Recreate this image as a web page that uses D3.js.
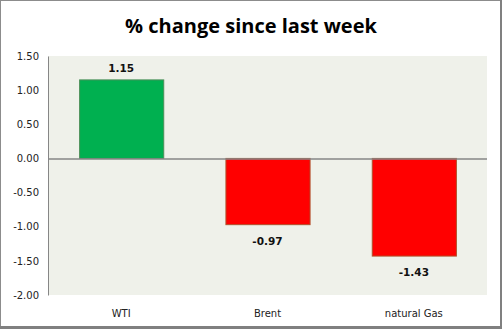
<!DOCTYPE html>
<html><head><meta charset="utf-8">
<script src="https://cdn.jsdelivr.net/npm/d3@7"></script>
<style>html,body{margin:0;padding:0;background:#fff;}svg{display:block;}</style>
</head><body>
<script>
const categories = ["WTI", "Brent", "natural Gas"];
const values = [1.15, -0.97, -1.43];
const tickValues = [1.5, 1.0, 0.5, 0, -0.5, -1.0, -1.5, -2.0];
const title = "% change since last week";

const W = 502, H = 329;
const fmt = d3.formatLocale({decimal: ".", thousands: ",", grouping: [3], currency: ["", ""], minus: "-"}).format(".2f");
const svg = d3.select("body").append("svg").attr("width", W).attr("height", H);

// outer frame
svg.append("rect").attr("x", 0).attr("y", 0).attr("width", W).attr("height", H).attr("fill", "#fff");
svg.append("rect").attr("x", 0.5).attr("y", 0.5).attr("width", W - 2).attr("height", H - 2)
  .attr("fill", "none").attr("stroke", "#8c8c8c").attr("stroke-width", 1);
svg.append("rect").attr("x", 0).attr("y", H - 3).attr("width", W).attr("height", 3).attr("fill", "#808080");
svg.append("rect").attr("x", W - 2).attr("y", 0).attr("width", 2).attr("height", H).attr("fill", "#808080");

const plot = {left: 48, right: 487, top: 56, bottom: 295};
const x = d3.scaleBand().domain(categories).range([plot.left, plot.right]).paddingInner(0.425).paddingOuter(0.2125);
const y = d3.scaleLinear().domain([-2, 1.5]).range([plot.bottom, plot.top]);

svg.append("rect").attr("x", plot.left).attr("y", plot.top)
  .attr("width", plot.right - plot.left).attr("height", plot.bottom - plot.top).attr("fill", "#eff1ea");

svg.append("text").attr("x", 251).attr("y", 33).attr("text-anchor", "middle")
  .attr("font-family", "Open Sans, sans-serif").attr("font-weight", "bold").attr("font-size", 20)
  .attr("fill", "#000").text(title);

// y axis
const yAxis = d3.axisLeft(y).tickValues(tickValues).tickFormat(fmt).tickSize(0).tickPadding(9);
const ga = svg.append("g").attr("transform", `translate(${plot.left},0)`).call(yAxis);
ga.select(".domain").attr("stroke", "#868686");
ga.selectAll("text").attr("font-family", "DejaVu Sans, Verdana, sans-serif").attr("font-size", 10).attr("fill", "#222");

// bars
svg.selectAll("rect.bar").data(values).enter().append("rect").attr("class", "bar")
  .attr("x", (d, i) => x(categories[i]) + 0.5)
  .attr("y", d => y(Math.max(0, d)))
  .attr("width", x.bandwidth())
  .attr("height", d => Math.abs(y(d) - y(0)))
  .attr("fill", d => d >= 0 ? "#00b050" : "#ff0000")
  .attr("stroke", d => d >= 0 ? "#4d8f5a" : "#b0502a").attr("stroke-width", 1);

// zero line
svg.append("line").attr("x1", plot.left).attr("x2", plot.right).attr("y1", y(0) + 0.5).attr("y2", y(0) + 0.5)
  .attr("stroke", "#868686").attr("stroke-width", 1.5);

// value labels
svg.selectAll("text.val").data(values).enter().append("text").attr("class", "val")
  .attr("x", (d, i) => x(categories[i]) + x.bandwidth() / 2)
  .attr("y", d => d >= 0 ? y(d) - 8 : y(d) + 20)
  .attr("text-anchor", "middle")
  .attr("font-family", "DejaVu Sans, Verdana, sans-serif").attr("font-weight", "bold").attr("font-size", 10.5)
  .attr("fill", "#111").text(d => fmt(d));

// category labels
svg.selectAll("text.cat").data(categories).enter().append("text").attr("class", "cat")
  .attr("x", d => x(d) + x.bandwidth() / 2).attr("y", 317).attr("text-anchor", "middle")
  .attr("font-family", "DejaVu Sans, Verdana, sans-serif").attr("font-size", 10).attr("fill", "#222")
  .text(d => d);
</script>
</body></html>
